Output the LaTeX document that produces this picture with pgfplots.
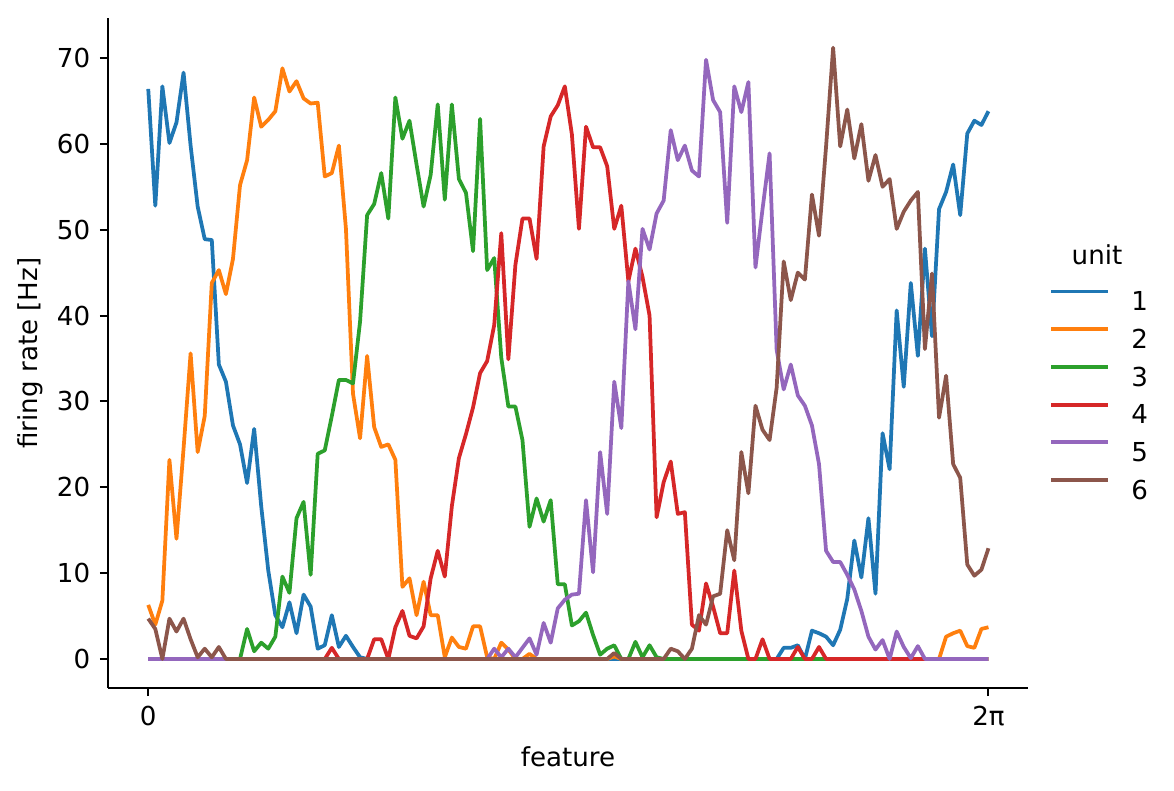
\documentclass[border=0pt]{standalone}
\usepackage{fontspec}
\setmainfont{DejaVu Sans}
\usepackage{pgfplots}
\usepackage{pgfplotstable}
\pgfplotsset{compat=1.18}
\definecolor{c1}{HTML}{1F77B4}
\definecolor{c2}{HTML}{FF7F0E}
\definecolor{c3}{HTML}{2CA02C}
\definecolor{c4}{HTML}{D62728}
\definecolor{c5}{HTML}{9467BD}
\definecolor{c6}{HTML}{8C564B}
\pgfplotstableread{
i u1 u2 u3 u4 u5 u6
0 66.4 6.3 0 0 0 4.7
1 52.8 4.0 0 0 0 3.5
2 66.7 6.8 0 0 0 0
3 60.1 23.2 0 0 0 4.7
4 62.5 14.0 0 0 0 3.2
5 68.3 24.5 0 0 0 4.7
6 59.8 35.6 0 0 0 2.3
7 52.7 24.1 0 0 0 0.2
8 48.9 28.3 0 0 0 1.2
9 48.8 43.8 0 0 0 0.2
10 34.3 45.3 0 0 0 1.4
11 32.3 42.5 0 0 0 0
12 27.2 46.6 0 0 0 0
13 25.0 55.2 0 0 0 0
14 20.5 58.1 3.5 0 0 0
15 26.8 65.4 0.9 0 0 0
16 17.8 62.0 1.9 0 0 0
17 10.3 62.8 1.2 0 0 0
18 5.1 63.8 2.6 0 0 0
19 3.7 68.8 9.6 0 0 0
20 6.6 66.1 7.7 0 0 0
21 3.0 67.3 16.4 0 0 0
22 7.5 65.3 18.3 0 0 0
23 6.1 64.7 9.8 0 0 0
24 1.2 64.8 23.9 0 0 0
25 1.6 56.2 24.3 0 0 0
26 5.1 56.6 28.3 1.3 0 0
27 1.4 59.8 32.5 0 0 0
28 2.7 50.1 32.5 0 0 0
29 1.4 30.9 32.1 0 0 0
30 0.2 25.7 39.3 0 0 0
31 0 35.3 51.7 0 0 0
32 0 27.0 53.0 2.3 0 0
33 0 24.7 56.6 2.3 0 0
34 0 25.0 51.3 0 0 0
35 0 23.2 65.4 3.7 0 0
36 0 8.4 60.6 5.6 0 0
37 0 9.4 62.7 2.7 0 0
38 0 5.1 57.6 2.4 0 0
39 0 9.0 52.7 3.8 0 0
40 0 5.1 56.4 9.4 0 0
41 0 5.1 64.6 12.6 0 0
42 0 0.2 53.5 9.6 0 0
43 0 2.5 64.6 17.8 0 0
44 0 1.4 55.9 23.4 0 0
45 0 1.2 54.3 26.2 0 0
46 0 3.8 47.5 29.3 0 0
47 0 3.8 62.9 33.3 0 0
48 0 0.2 45.3 34.7 0 0
49 0 0 46.7 38.9 1.2 0
50 0 1.9 35.1 49.6 0.2 0
51 0 1.1 29.4 34.9 1.2 0
52 0 0 29.4 45.9 0.2 0
53 0 0 25.5 51.3 1.3 0
54 0 0.6 15.4 51.3 2.4 0
55 0 0 18.7 46.6 0.5 0
56 0 0 16.0 59.7 4.2 0
57 0 0 18.5 63.2 1.9 0
58 0 0 8.7 64.5 5.9 0
59 0 0 8.7 66.7 6.9 0
60 0 0 3.9 61.1 7.5 0
61 0 0 4.4 50.1 7.6 0
62 0 0 5.4 62.0 18.5 0
63 0 0 2.8 59.6 10.1 0
64 0 0 0.5 59.6 24.1 0
65 0 0 1.2 57.4 16.9 0
66 0 0.3 1.6 50.1 32.3 0.7
67 0 0 0 52.8 26.9 0
68 0 0 0 44.0 44.0 0
69 0 0 2.0 47.8 38.4 0
70 0 0 0.2 44.5 50.1 0
71 0 0 1.6 40.0 47.7 0
72 0 0 0.2 16.5 51.9 0
73 0 0 0 20.6 53.4 0
74 0 0 0 23.0 61.6 1.2
75 0 0 0 16.9 58.1 0.9
76 0 0 0 17.1 59.8 0
77 0 0 0 4.0 56.9 1.2
78 0 0 0 3.3 56.2 5.1
79 0 0 0 8.8 69.8 4.0
80 0 0 0 6.1 65.1 7.3
81 0 0 0 3.0 63.7 7.6
82 0 0 0 3.0 50.8 15.0
83 0 0 0 10.3 66.7 11.5
84 0 0 0 3.3 63.7 24.1
85 0 0 0 0 67.2 19.3
86 0 0 0 0 45.6 29.5
87 0 0 0 2.3 52.4 26.7
88 0 0 0 0 58.9 25.5
89 0 0 0 0 36.0 31.6
90 1.3 0 0 0 31.4 46.3
91 1.3 0 0 0 34.3 41.8
92 1.6 0 0 1.4 30.7 45.0
93 0 0 0 0 29.5 44.2
94 3.3 0 0 0 27.2 54.1
95 3.0 0 0 1.4 22.7 49.3
96 2.6 0 0 0 12.6 59.7
97 1.6 0 0 0 11.3 71.2
98 3.4 0 0 0 11.3 59.7
99 7.0 0 0 0 9.8 64.0
100 13.8 0 0 0 8.1 58.3
101 9.5 0 0 0 5.6 62.3
102 16.4 0 0 0 2.6 55.7
103 7.6 0 0 0 1.1 58.7
104 26.3 0 0 0 2.2 55.0
105 22.1 0 0 0 0 55.9
106 40.6 0 0 0 3.2 50.1
107 31.7 0 0 0 1.4 52.1
108 43.8 0 0 0 0.1 53.4
109 35.3 0 0 0 1.5 54.4
110 47.8 0 0 0 0 36.1
111 37.6 0 0 0 0 44.9
112 52.4 0 0 0 0 28.1
113 54.4 2.6 0 0 0 33.0
114 57.6 3.0 0 0 0 22.7
115 51.7 3.3 0 0 0 21.1
116 61.2 1.5 0 0 0 11.0
117 62.7 1.3 0 0 0 9.7
118 62.2 3.5 0 0 0 10.4
119 63.8 3.7 0 0 0 12.9
}\rates
\begin{document}
\begin{tikzpicture}[font=\fontsize{9.4}{11.3}\selectfont]
\useasboundingbox (-38.88pt,-36.72pt) rectangle (383.76pt,247.68pt);
\begin{axis}[
  at={(0pt,0pt)}, anchor=south west,
  scale only axis, width=331.2pt, height=241.2pt,
  xmin=-5.7, xmax=124.6, ymin=-3.38, ymax=74.66,
  axis x line*=bottom, axis y line*=left,
  axis line style={line width=0.72pt, black},
  xtick={0,119}, xticklabels={0,2π},
  ytick={0,10,...,70},
  tick align=outside, major tick length=2.9pt,
  tick style={line width=0.72pt, black},
  /pgf/number format/assume math mode=true,
  tick label style={font=\fontsize{9.4}{11.3}\selectfont},
  xlabel={feature}, ylabel={firing rate [Hz]},
  xlabel style={at={(axis description cs:0.5,-0.103)}, anchor=center},
  ylabel style={at={(axis description cs:-0.0848,0.5)}, anchor=center},
  every axis plot/.append style={line width=1.35pt, line join=round},
  legend style={draw=none, fill=none, inner sep=0pt, at={(rel axis cs:1.0228,0.5954)}, anchor=north west,
    font=\fontsize{9.4}{11.3}\selectfont, row sep=6.0pt, column sep=7.9pt,
    nodes={inner sep=0pt, text height=7pt, text depth=0pt}},
  legend cell align=left,
  legend image code/.code={\draw[#1] (0pt,3.4pt) -- (20.2pt,3.4pt);},
]
\addplot[c1] table[x=i, y=u1] {\rates}; \addlegendentry{1}
\addplot[c2] table[x=i, y=u2] {\rates}; \addlegendentry{2}
\addplot[c3] table[x=i, y=u3] {\rates}; \addlegendentry{3}
\addplot[c4] table[x=i, y=u4] {\rates}; \addlegendentry{4}
\addplot[c5] table[x=i, y=u5] {\rates}; \addlegendentry{5}
\addplot[c6] table[x=i, y=u6] {\rates}; \addlegendentry{6}
\end{axis}
\node at (356.04pt,155.88pt) {unit};
\end{tikzpicture}
\end{document}
